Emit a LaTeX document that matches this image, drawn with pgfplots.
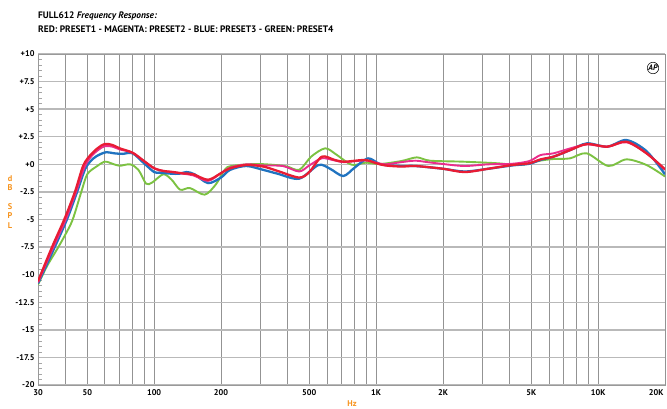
\documentclass[border=0pt]{standalone}
\usepackage{pgfplots}
\pgfplotsset{compat=1.18}
\usepackage{fontspec}
\setmainfont{PT Sans}
\definecolor{cred}{RGB}{232,28,52}
\definecolor{cmag}{RGB}{234,45,140}
\definecolor{cblue}{RGB}{32,115,192}
\definecolor{cgreen}{RGB}{124,194,66}
\definecolor{corange}{RGB}{247,148,30}
\begin{document}
\begin{tikzpicture}[x=1pt,y=1pt]
\path[use as bounding box] (0,0) rectangle (667,408);
\node[anchor=base west, font=\bfseries\fontsize{9.4}{10}\selectfont, inner sep=0] at (38,389.5) {FULL612 \textit{Frequency Response:}};
\node[anchor=base west, font=\bfseries\fontsize{9.4}{10}\selectfont, inner sep=0] at (38,375) {RED: PRESET1 - MAGENTA: PRESET2 - BLUE: PRESET3 - GREEN: PRESET4};
\begin{axis}[
  at={(38pt,23pt)}, anchor=south west, scale only axis,
  width=627pt, height=331pt,
  xmode=log, xmin=30, xmax=20000, ymin=-20, ymax=10,
  axis line style={gray!80, line width=0.8pt},
  xtick={30,40,50,60,70,80,90,100,200,300,400,500,600,700,800,900,1000,2000,3000,4000,5000,6000,7000,8000,9000,10000},
  xticklabels={30,,50,,,,,100,200,,,500,,,,,1K,2K,,,5K,,,,,10K},
  extra x ticks={20000},
  extra x tick labels={20K},
  extra x tick style={xticklabel style={anchor=north east, xshift=2pt}},
  ytick={-20,-17.5,-15,-12.5,-10,-7.5,-5,-2.5,0,2.5,5,7.5,10},
  yticklabels={-20,-17.5,-15,-12.5,-10,-7.5,-5,-2.5,+0,+2.5,+5,+7.5,+10},
  minor y tick num=4,
  ytick pos=left, xtick pos=bottom,
  major tick length=0pt,
  minor tick length=4pt,
  tick align=inside,
  minor tick style={gray!70, line width=0.6pt},
  xmajorgrids, ymajorgrids,
  x grid style={gray!85, line width=0.7pt},
  y grid style={gray!55, line width=1.4pt},
  xticklabel style={font=\bfseries\fontsize{8.3}{9}\selectfont, yshift=-1pt},
  yticklabel style={font=\bfseries\fontsize{8.3}{9}\selectfont},
  clip=true,
]
\addplot[cgreen, line width=1.9pt, smooth, tension=0.5] coordinates {
(30,-10.9) (33,-9.2) (36.8,-7.6) (40,-6.3) (43,-5.0) (47,-2.5) (50,-0.9) (55,-0.2) (60,0.24) (65,0.05) (70,-0.13) (78,0.0) (85,-0.5) (92,-1.75) (98,-1.65) (110,-0.9) (120,-1.4) (131,-2.3) (145,-2.15) (169,-2.75) (190,-1.8) (208,-0.5) (223,-0.15) (290,0.03) (388,-0.15) (450,-0.5) (510,0.7) (589,1.45) (660,0.9) (750,0.1) (800,-0.06) (900,0.15) (1041,0.03) (1300,0.3) (1524,0.63) (1750,0.33) (2470,0.24) (3500,0.1) (4450,-0.06) (5470,0.33) (6280,0.48) (7460,0.54) (8870,1.0) (11100,-0.15) (13400,0.45) (16500,-0.06) (20000,-1.1)
};
\addplot[cblue, line width=2.3pt, smooth, tension=0.5] coordinates {
(30,-10.8) (35.5,-7.6) (40.5,-5.0) (45,-2.5) (49,-0.4) (53,0.5) (57,0.9) (61,1.1) (66,1.0) (72,0.95) (80,1.0) (90,0.1) (100,-0.7) (106,-0.75) (120,-0.85) (130,-0.85) (140,-0.7) (152,-0.9) (175,-1.7) (200,-1.2) (220,-0.5) (260,-0.15) (310,-0.5) (360,-0.85) (450,-1.3) (550,-0.06) (620,-0.4) (711,-1.06) (800,-0.3) (920,0.54) (1050,0.0) (1300,-0.15) (1500,-0.15) (2000,-0.4) (2500,-0.65) (3200,-0.4) (4100,-0.1) (4900,0.05) (5500,0.4) (6300,0.7) (7500,1.3) (8900,1.9) (11000,1.6) (13400,2.2) (16500,1.2) (20000,-0.9)
};
\addplot[cmag, line width=1.9pt, smooth, tension=0.5] coordinates {
(30,-10.7) (35,-7.6) (40,-5.0) (44.5,-2.5) (48.5,-0.3) (52,0.7) (56,1.3) (60,1.65) (65,1.6) (70,1.35) (80,1.05) (90,0.3) (100,-0.35) (110,-0.6) (120,-0.7) (135,-0.85) (150,-1.0) (175,-1.5) (200,-0.8) (220,-0.3) (260,0.0) (310,-0.1) (380,-0.15) (450,-0.65) (500,-0.1) (570,0.55) (650,0.35) (720,0.2) (890,0.35) (1000,0.15) (1100,0.0) (1300,0.2) (1500,0.33) (1700,0.2) (2000,0.03) (2500,-0.15) (3200,0.0) (4100,0.05) (4900,0.3) (5500,0.84) (6300,1.0) (7500,1.45) (8900,1.8) (11000,1.6) (13400,2.0) (16500,1.0) (20000,-0.5)
};
\addplot[cred, line width=2.3pt, smooth, tension=0.5] coordinates {
(30,-10.6) (34.7,-7.5) (39.4,-5.0) (44,-2.5) (48,-0.1) (52,0.9) (56,1.5) (60,1.85) (65,1.75) (70,1.45) (80,1.05) (90,0.3) (100,-0.35) (110,-0.6) (120,-0.68) (135,-0.82) (150,-0.9) (175,-1.4) (200,-0.8) (220,-0.36) (260,-0.06) (310,-0.2) (360,-0.6) (450,-1.2) (500,-0.7) (569,0.69) (650,0.4) (720,0.24) (890,0.39) (1000,0.1) (1100,-0.1) (1300,-0.2) (1500,-0.15) (2000,-0.4) (2500,-0.7) (3200,-0.4) (4100,-0.06) (4900,0.1) (5500,0.45) (6300,0.7) (7500,1.3) (8900,1.84) (11000,1.6) (13400,2.05) (16500,1.0) (20000,-0.45)
};
\end{axis}
\node[font=\bfseries\fontsize{8.3}{9}\selectfont, text=corange] at (10,229) {d};
\node[font=\bfseries\fontsize{8.3}{9}\selectfont, text=corange] at (10,220) {B};
\node[font=\bfseries\fontsize{8.3}{9}\selectfont, text=corange] at (10,201) {S};
\node[font=\bfseries\fontsize{8.3}{9}\selectfont, text=corange] at (10,192) {P};
\node[font=\bfseries\fontsize{8.3}{9}\selectfont, text=corange] at (10,182) {L};
\node[font=\bfseries\fontsize{8.3}{9}\selectfont, text=corange] at (352,4.5) {Hz};
\node[font=\bfseries\itshape\fontsize{8}{9}\selectfont, draw, circle, inner sep=0.3pt, line width=0.5pt] at (653,340) {AP};
\end{tikzpicture}
\end{document}
